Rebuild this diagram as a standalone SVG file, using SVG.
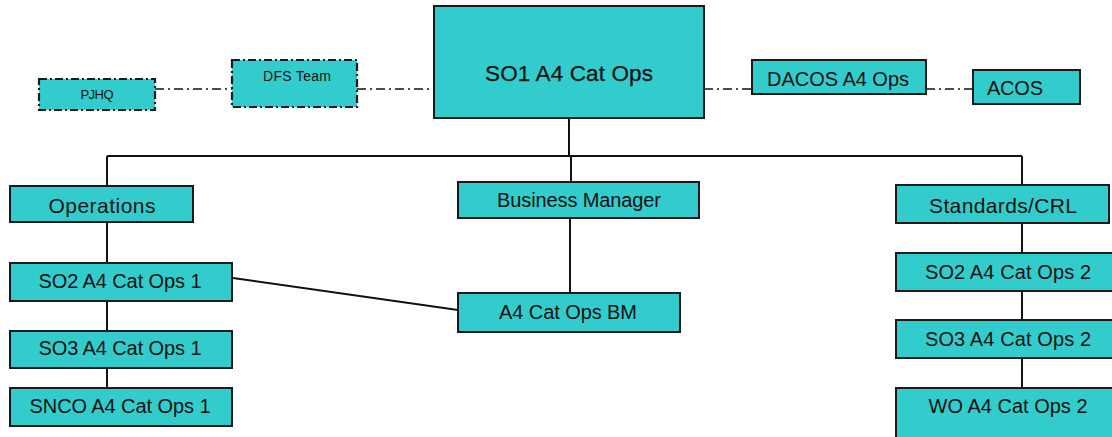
<svg xmlns="http://www.w3.org/2000/svg" width="1112" height="437" viewBox="0 0 1112 437">
<style>
.box{fill:#33CCCC;stroke:#1a1a1a;stroke-width:2}
.dbox{fill:#33CCCC;stroke:#1a1a1a;stroke-width:2.2;stroke-dasharray:8 3 2 3}
.ln{fill:none;stroke:#111;stroke-width:2}
.dl{fill:none;stroke:#111;stroke-width:1.6;stroke-dasharray:9 4 2 4}
text{font-family:"Liberation Sans",Arial,sans-serif;fill:#111;text-anchor:middle}
.t{font-size:20px}
.s{font-size:13px}
</style>
<rect width="1112" height="437" fill="#fff"/>
<g id="connectors">
<path class="dl" d="M155 89H232M357 89H434M704 89H752M926 89H973"/>
<path class="ln" d="M569 118V156M571 156V181M107 156H1022M107 156V186M107 222V263M107 301V331M107 368V388M1022 156V185M1022 223V253M1022 291V320M1022 358V388M570 218V293M233 278L458 310"/>
</g>
<g id="pjhq"><rect class="dbox" x="39" y="79" width="116" height="31"/><text class="s" x="97" y="99" textLength="33">PJHQ</text></g>
<g id="dfs"><rect class="dbox" x="232" y="60" width="125" height="47"/><text x="297" y="81" font-size="14" textLength="68">DFS Team</text></g>
<g id="so1"><rect class="box" x="434" y="6" width="270" height="112"/><text x="569" y="81" font-size="22.5" textLength="168" stroke="#111" stroke-width="0.25">SO1 A4 Cat Ops</text></g>
<g id="dacos"><rect class="box" x="752" y="60" width="174" height="34"/><text class="t" x="838" y="86" textLength="142">DACOS A4 Ops</text></g>
<g id="acos"><rect class="box" x="973" y="70" width="107" height="34"/><text class="t" x="1015" y="95" textLength="56">ACOS</text></g>
<g id="operations"><rect class="box" x="10" y="186" width="183" height="36"/><text x="102" y="213" font-size="21" textLength="107">Operations</text></g>
<g id="bm"><rect class="box" x="458" y="182" width="241" height="36"/><text class="t" x="579" y="207" textLength="164">Business Manager</text></g>
<g id="standards"><rect class="box" x="896" y="185" width="213" height="38"/><text x="1003" y="213" font-size="21" textLength="148">Standards/CRL</text></g>
<g id="so2-1"><rect class="box" x="10" y="263" width="222" height="38"/><text class="t" x="120" y="288" textLength="163">SO2 A4 Cat Ops 1</text></g>
<g id="so3-1"><rect class="box" x="10" y="331" width="222" height="37"/><text class="t" x="120" y="355" textLength="163">SO3 A4 Cat Ops 1</text></g>
<g id="snco-1"><rect class="box" x="10" y="388" width="222" height="38"/><text class="t" x="120" y="413" textLength="181">SNCO A4 Cat Ops 1</text></g>
<g id="a4bm"><rect class="box" x="458" y="293" width="222" height="39"/><text class="t" x="568" y="319" textLength="138">A4 Cat Ops BM</text></g>
<g id="so2-2"><rect class="box" x="896" y="253" width="220" height="38"/><text class="t" x="1008" y="279" textLength="166">SO2 A4 Cat Ops 2</text></g>
<g id="so3-2"><rect class="box" x="896" y="320" width="220" height="38"/><text class="t" x="1008" y="346" textLength="166">SO3 A4 Cat Ops 2</text></g>
<g id="wo-2"><rect class="box" x="896" y="388" width="220" height="60"/><text class="t" x="1008" y="413" textLength="159">WO A4 Cat Ops 2</text></g>
</svg>
